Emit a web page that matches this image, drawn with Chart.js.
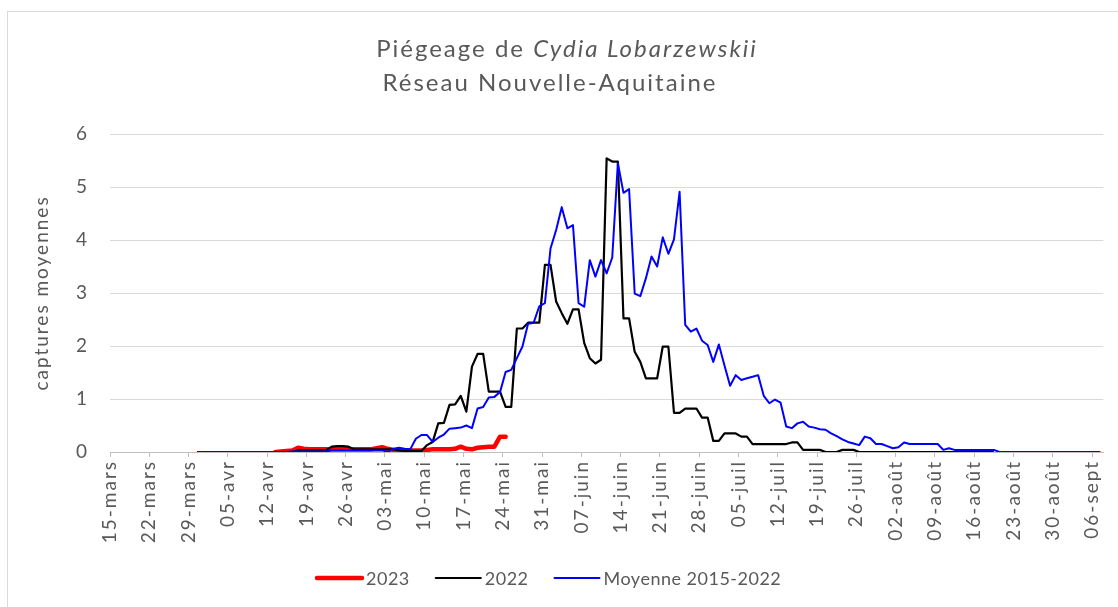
<!DOCTYPE html>
<html lang="fr">
<head>
<meta charset="utf-8">
<title>Piégeage de Cydia Lobarzewskii</title>
<script src="https://cdn.jsdelivr.net/npm/chart.js@4.4.1/dist/chart.umd.min.js"></script>
<style>
  html, body { margin: 0; padding: 0; background: #fff; }
  #wrap { width: 1118px; height: 607px; }
</style>
</head>
<body>
<div id="wrap"><canvas id="piegeage" width="1118" height="607"></canvas></div>
<script>
// day 0 = 15 mars, one tick every 7 days
const weekLabels = ['15-mars', '22-mars', '29-mars', '05-avr', '12-avr', '19-avr', '26-avr',
  '03-mai', '10-mai', '17-mai', '24-mai', '31-mai', '07-juin', '14-juin', '21-juin', '28-juin',
  '05-juil', '12-juil', '19-juil', '26-juil', '02-août', '09-août', '16-août', '23-août',
  '30-août', '06-sept'];
const lastDay = 177;

const titleStart = 'Piégeage de ';
const titleSpecies = 'Cydia Lobarzewskii';
const titleNetwork = 'Réseau Nouvelle-Aquitaine';

// daily mean captures per trap, each series begins on its own first day
const start2023 = 29;
const captures2023 = [
  0, 0.01, 0.02, 0.03, 0.08, 0.06,
  0.05, 0.05, 0.05, 0.05, 0.05, 0.05, 0.05, 0.05, 0.05, 0.05, 0.05, 0.05,
  0.07, 0.09, 0.06, 0.04,
  0.03, 0.03, 0.03, 0.03, 0.03,
  0.04, 0.05, 0.05, 0.05, 0.05,
  0.06, 0.10, 0.06, 0.05, 0.08, 0.09, 0.10, 0.10, 0.29, 0.29
];

const start2022 = 28;
const captures2022 = [
  0, 0, 0, 0, 0,
  0.03, 0.03, 0.03, 0.03, 0.03, 0.03,
  0.10, 0.11, 0.11, 0.10,
  0.05, 0.05, 0.05, 0.05, 0.05, 0.05, 0.05, 0.05,
  0.03, 0.02, 0.02, 0.02, 0.02,
  0.13, 0.19, 0.54, 0.55, 0.89, 0.90, 1.06, 0.76, 1.61, 1.85,
  1.85, 1.14, 1.14, 1.14, 0.85, 0.85, 2.33, 2.33, 2.44, 2.44,
  2.44, 3.53, 3.53, 2.84, 2.62, 2.42, 2.69, 2.69, 2.06, 1.77,
  1.67, 1.74, 5.54, 5.48, 5.48, 2.52, 2.52, 1.89, 1.70, 1.39,
  1.39, 1.39, 1.99, 1.99, 0.74, 0.74, 0.82, 0.82, 0.82, 0.65,
  0.65, 0.21, 0.21, 0.35, 0.35, 0.35, 0.29, 0.29, 0.15, 0.15,
  0.15, 0.15, 0.15, 0.15, 0.15, 0.18, 0.18,
  0.04, 0.04, 0.04, 0.04, 0, 0, 0, 0.04, 0.04, 0.04,
  0, 0, 0, 0, 0, 0, 0, 0, 0, 0, 0, 0, 0, 0, 0, 0, 0, 0, 0, 0, 0, 0, 0, 0, 0
];

const startMoyenne = 15;
const capturesMoyenne = [
  0, 0, 0, 0, 0, 0, 0, 0, 0, 0, 0, 0, 0, 0, 0, 0, 0,
  0.01, 0.01, 0.01, 0.01, 0.01, 0.01, 0.01,
  0.03, 0.03, 0.03, 0.03, 0.03, 0.03, 0.03, 0.03, 0.03, 0.03,
  0, 0.06, 0.08, 0.06, 0.05,
  0.25, 0.32, 0.32, 0.19, 0.27, 0.33, 0.44, 0.45, 0.46, 0.50, 0.45,
  0.82, 0.85, 1.03, 1.04, 1.13, 1.51, 1.55, 1.77, 1.99, 2.42,
  2.44, 2.75, 2.81, 3.84, 4.19, 4.62, 4.22, 4.28, 2.81, 2.74,
  3.62, 3.31, 3.62, 3.37, 3.67, 5.45, 4.89, 4.96, 2.99, 2.94,
  3.28, 3.69, 3.50, 4.05, 3.74, 4.01, 4.91, 2.40, 2.27, 2.33,
  2.10, 2.02, 1.70, 2.03, 1.63, 1.25, 1.45, 1.36, 1.39, 1.42,
  1.45, 1.06, 0.92, 0.99, 0.93, 0.48, 0.45, 0.54, 0.57, 0.48,
  0.46, 0.43, 0.42, 0.35, 0.30, 0.24, 0.19, 0.16, 0.13, 0.29,
  0.26, 0.15, 0.15, 0.11, 0.07, 0.09, 0.18, 0.15, 0.15, 0.15,
  0.15, 0.15, 0.15, 0.04, 0.07, 0.04, 0.04, 0.04, 0.04, 0.04,
  0.04, 0.04, 0.04,
  0, 0, 0, 0, 0, 0, 0, 0, 0, 0, 0, 0, 0, 0, 0, 0, 0, 0, 0
];

const grey = '#595959';
const family = 'Lato, "Liberation Sans", sans-serif';

// each value sits in the middle of its day slot
function toPoints(start, values) {
  return values.map((v, i) => ({ x: start + i + 0.5, y: v }));
}

// white frame, two-line title and the legend row under the axis
const pageDecor = {
  id: 'pageDecor',
  beforeUpdate(chart) {
    chart.ctx.letterSpacing = '2px';
  },
  beforeDraw(chart) {
    const ctx = chart.ctx;
    ctx.save();
    ctx.fillStyle = '#fff';
    ctx.fillRect(0, 0, chart.width, chart.height);
    ctx.strokeStyle = '#d9d9d9';
    ctx.lineWidth = 1;
    ctx.strokeRect(7.5, 11.5, chart.width + 20, chart.height + 20);
    ctx.restore();
  },
  afterDraw(chart) {
    const ctx = chart.ctx;
    ctx.save();
    ctx.fillStyle = grey;
    ctx.textBaseline = 'alphabetic';
    ctx.letterSpacing = '2px';

    const plain = `24px ${family}`;
    const italic = `italic 24px ${family}`;
    ctx.font = plain;
    const w1 = ctx.measureText(titleStart).width;
    ctx.font = italic;
    const w2 = ctx.measureText(titleSpecies).width;
    let x = 567 - (w1 + w2) / 2;
    ctx.textAlign = 'left';
    ctx.font = plain;
    ctx.fillText(titleStart, x, 57);
    ctx.font = italic;
    ctx.fillText(titleSpecies, x + w1, 57);
    ctx.font = plain;
    ctx.textAlign = 'center';
    ctx.fillText(titleNetwork, 550, 91);

    // legend: short line sample then label, in dataset order
    ctx.letterSpacing = '0.5px';
    ctx.font = `18px ${family}`;
    ctx.textAlign = 'left';
    ctx.textBaseline = 'middle';
    const y = 578;
    x = 317;
    chart.data.datasets.forEach(ds => {
      ctx.strokeStyle = ds.borderColor;
      ctx.lineWidth = ds.borderWidth;
      ctx.lineCap = 'round';
      ctx.beginPath();
      ctx.moveTo(x, y);
      ctx.lineTo(x + 45, y);
      ctx.stroke();
      ctx.fillText(ds.label, x + 49, y + 1);
      x += 49 + ctx.measureText(ds.label).width + 26;
    });
    ctx.restore();
  }
};

const ctx = document.getElementById('piegeage').getContext('2d');
const chart = new Chart(ctx, {
  type: 'line',
  data: {
    datasets: [{
      label: '2023',
      data: toPoints(start2023, captures2023),
      borderColor: '#ff0000',
      borderWidth: 4.5,
      borderCapStyle: 'round',
      order: 2
    }, {
      label: '2022',
      data: toPoints(start2022, captures2022),
      borderColor: '#000000',
      borderWidth: 2.2,
      order: 1
    }, {
      label: 'Moyenne 2015-2022',
      data: toPoints(startMoyenne, capturesMoyenne),
      borderColor: '#0000ff',
      borderWidth: 2,
      order: 0
    }]
  },
  options: {
    responsive: false,
    animation: false,
    elements: {
      point: { radius: 0 },
      line: { tension: 0, borderJoinStyle: 'round', fill: false }
    },
    layout: { padding: { top: 134, right: 13, left: 0, bottom: 0 } },
    plugins: {
      legend: { display: false },
      tooltip: { enabled: false }
    },
    scales: {
      x: {
        type: 'linear',
        min: 0,
        max: lastDay,
        afterBuildTicks: s => { s.ticks = weekLabels.map((_, i) => ({ value: i * 7 })); },
        afterFit: s => { s.height = 155; },
        ticks: {
          callback: v => weekLabels[Math.round(v / 7)],
          autoSkip: false,
          minRotation: 90,
          maxRotation: 90,
          padding: 3,
          color: grey,
          font: { family, size: 19 }
        },
        grid: { drawOnChartArea: false, drawTicks: true, tickLength: 5, color: '#bfbfbf' },
        border: { color: '#bfbfbf' }
      },
      y: {
        min: 0,
        max: 6,
        afterFit: s => { s.width = 110; },
        ticks: {
          stepSize: 1,
          padding: 21,
          color: grey,
          font: { family, size: 19 }
        },
        grid: { color: '#d9d9d9', drawTicks: false },
        border: { display: false },
        title: {
          display: true,
          text: 'captures moyennes',
          color: grey,
          font: { family, size: 19 },
          padding: { top: 30, bottom: 0 }
        }
      }
    }
  },
  plugins: [pageDecor]
});
</script>
</body>
</html>
